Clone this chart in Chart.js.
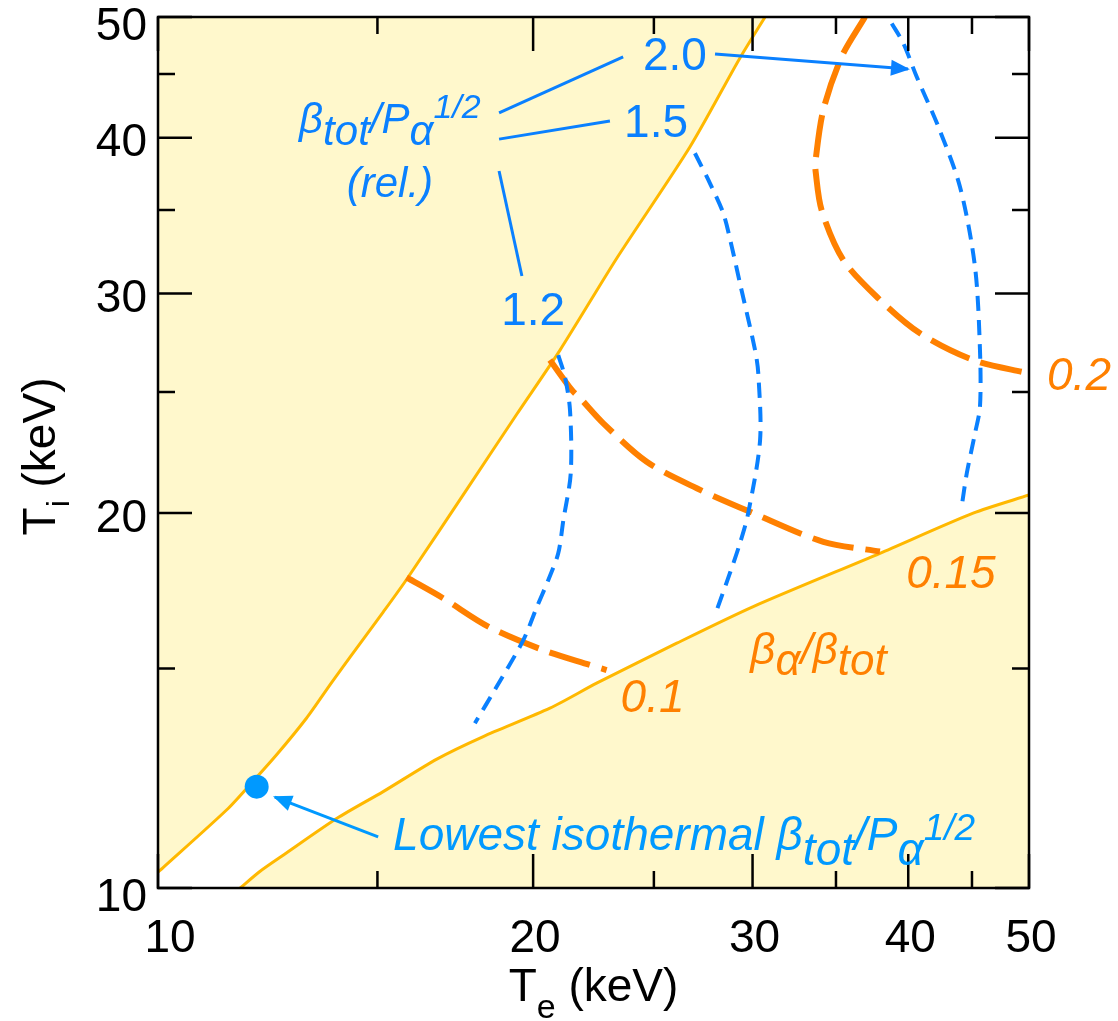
<!DOCTYPE html>
<html lang="en">
<head>
<meta charset="UTF-8">
<title>Beta contours in Te-Ti plane</title>
<script src="https://cdn.jsdelivr.net/npm/chart.js"></script>
<style>
  html, body { margin: 0; padding: 0; background: #fff; }
  #wrap { width: 1118px; height: 1021px; }
</style>
</head>
<body>
<div id="wrap"><canvas id="chart" width="1118" height="1021"></canvas></div>
<script>
// axis ticks, both axes in keV
const majorTicks = [10, 20, 30, 40, 50];
const minorTicks = [15, 25, 35, 45];
const tickLabels = ['10', '20', '30', '40', '50'];

// edges of the allowed (white) region, [Te, Ti]
const upperEdge = [[10.0, 10.3], [10.09, 10.38], [11.35, 11.55], [11.85, 12.1], [12.45, 12.79], [13.16, 13.69],
  [13.79, 14.63], [14.26, 15.32], [15.16, 16.65], [15.84, 17.7], [17.7, 20.9], [19.41, 24.01], [21.02, 27.02],
  [23.35, 32.03], [26.72, 39.32], [29.31, 46.35], [30.7, 50]];
const lowerEdge = [[11.64, 10.0], [12.07, 10.31], [12.61, 10.63], [13.91, 11.37], [15.16, 11.95], [16.74, 12.69],
  [18.24, 13.23], [20.63, 13.94], [22.49, 14.6], [26.08, 15.72], [30.04, 16.82], [37.96, 18.56], [45.1, 19.99],
  [50, 20.67]];

// beta_alpha / beta_tot contours
const betaA010 = [[15.83, 17.75], [16.94, 17.08], [18.41, 16.21], [20.38, 15.52], [22.22, 15.1], [22.91, 14.96]];
const betaA015 = [[20.63, 26.53], [21.48, 25.1], [21.81, 24.73], [22.77, 23.6], [24.67, 21.98], [27.06, 20.93],
  [30.04, 19.99], [34.19, 18.96], [37.96, 18.62]];
const betaA020 = [[36.93, 50], [35.37, 46.46], [34.19, 42.1], [33.71, 38.39], [33.71, 37.57], [34.09, 34.97],
  [35.48, 31.91], [37.85, 29.73], [40.88, 27.87], [45.1, 26.53], [50, 25.88]];

// beta_tot / P_alpha^1/2 (rel.) contours
const rel12 = [[20.95, 26.77], [21.21, 25.72], [21.41, 24.19], [21.44, 21.52], [21.15, 19.74], [20.95, 18.56],
  [20.57, 17.67], [20.14, 16.81], [19.64, 15.81], [18.7, 14.51], [17.96, 13.56]];
const rel15 = [[26.97, 38.87], [27.73, 36.77], [28.42, 34.79], [28.87, 32.71], [29.31, 30.57], [30.14, 27.02],
  [30.32, 25.88], [30.42, 22.88], [29.76, 19.99], [29.31, 18.91], [28.77, 17.89], [28.08, 16.71]];
const rel20 = [[38.8, 49.4], [39.64, 47.63], [40.63, 44.77], [42.29, 40.82], [44.01, 36.54], [45.25, 31.52],
  [45.67, 27.02], [45.67, 24.33], [45.25, 23.16], [44.57, 21.52], [44.15, 20.23]];

// lowest isothermal beta_tot / P_alpha^1/2
const lowestPoint = [[12.0, 12.06]];

// leader lines and arrows of the labels
const leader1 = [[18.78, 41.88], [23.62, 46.44]];
const leader2 = [[18.78, 39.9], [23.05, 41.26]];
const leader3 = [[18.78, 37.62], [19.59, 30.98]];
const arrow20 = [[27.99, 46.69], [39.98, 45.42]];
const arrowLow = [[15.02, 10.99], [12.41, 11.83]];

const BLUE = '#0a80ff';
const CYAN = '#0099ff';
const ORANGE = '#ff8000';
const GOLD = '#ffb800';
const PALE = '#fff8cc';
const FONT = "'Liberation Sans', Arial, Helvetica, sans-serif";

// text labels: anchor in data units, parts = [text, size, shift down]
const notes = [
  { at: [15.35, 40.35], align: 'center', color: BLUE, italic: true,
    parts: [['β', 42, 0], ['tot', 42, 12], ['/P', 42, 0], ['α', 42, 12], ['1/2', 34, -15]] },
  { at: [15.35, 35.86], align: 'center', color: BLUE, italic: true, parts: [['(rel.)', 42, 0]] },
  { at: [25.99, 45.33], align: 'center', color: BLUE, italic: false, parts: [['2.0', 46, 0]] },
  { at: [25.10, 40.06], align: 'center', color: BLUE, italic: false, parts: [['1.5', 46, 0]] },
  { at: [20.0, 28.30], align: 'center', color: BLUE, italic: false, parts: [['1.2', 46, 0]] },
  { at: [54.84, 25.10], align: 'center', color: ORANGE, italic: true, parts: [['0.2', 46, 0]] },
  { at: [43.28, 17.41], align: 'center', color: ORANGE, italic: true, parts: [['0.15', 46, 0]] },
  { at: [24.94, 13.84], align: 'center', color: ORANGE, italic: true, parts: [['0.1', 46, 0]] },
  { at: [33.89, 15.13], align: 'center', color: ORANGE, italic: true,
    parts: [['β', 44, 0], ['α', 44, 11], ['/β', 44, 0], ['tot', 44, 11]] },
  { at: [15.44, 10.73], align: 'left', color: CYAN, italic: true,
    parts: [['Lowest isothermal β', 46, 0], ['tot', 46, 15], ['/P', 46, 0], ['α', 46, 15], ['1/2', 37, -10]] }
];

function pts(a) { return a.map(p => ({ x: p[0], y: p[1] })); }

function drawRich(ctx, parts, x, y, align, color, italic) {
  const font = s => (italic ? 'italic ' : '') + s + 'px ' + FONT;
  let w = 0;
  parts.forEach(p => { ctx.font = font(p[1]); w += ctx.measureText(p[0]).width; });
  let cx = align === 'center' ? x - w / 2 : x;
  ctx.fillStyle = color;
  ctx.textAlign = 'left';
  ctx.textBaseline = 'alphabetic';
  parts.forEach(p => {
    ctx.font = font(p[1]);
    ctx.fillText(p[0], cx, y + p[2]);
    cx += ctx.measureText(p[0]).width;
  });
}

function contour(data, color, width, dash) {
  return { data: pts(data), borderColor: color, borderWidth: width, borderDash: dash, tension: 0.3, fill: false };
}

const datasets = [
  { data: pts(lowestPoint), showLine: false, pointRadius: 12, pointBackgroundColor: CYAN, pointBorderWidth: 0 },
  { data: pts(leader1), borderColor: BLUE, borderWidth: 3 },
  { data: pts(leader2), borderColor: BLUE, borderWidth: 3 },
  { data: pts(leader3), borderColor: BLUE, borderWidth: 3 },
  { data: pts(arrow20), borderColor: BLUE, borderWidth: 3, arrow: true },
  { data: pts(arrowLow), borderColor: CYAN, borderWidth: 3, arrow: true },
  contour(rel12, BLUE, 4, [15, 9]),
  contour(rel15, BLUE, 4, [15, 9]),
  contour(rel20, BLUE, 4, [15, 9]),
  contour(betaA010, ORANGE, 6, [42, 12]),
  contour(betaA015, ORANGE, 6, [42, 12]),
  contour(betaA020, ORANGE, 6, [42, 12]),
  { data: pts(upperEdge), borderColor: GOLD, borderWidth: 3, fill: 'end', backgroundColor: PALE, tension: 0.25 },
  { data: pts(lowerEdge), borderColor: GOLD, borderWidth: 3, fill: 'start', backgroundColor: PALE, tension: 0.25 }
];

const framePlugin = {
  id: 'frame',
  afterDatasetsDraw(chart) {
    const { ctx, chartArea: a, scales: { x, y } } = chart;
    ctx.save();
    // arrowheads
    chart.data.datasets.forEach((ds, i) => {
      if (!ds.arrow) return;
      const el = chart.getDatasetMeta(i).data;
      const p0 = el[el.length - 2], p1 = el[el.length - 1];
      const ang = Math.atan2(p1.y - p0.y, p1.x - p0.x);
      const tx = p1.x + 2 * Math.cos(ang), ty = p1.y + 2 * Math.sin(ang);
      ctx.fillStyle = ds.borderColor;
      ctx.beginPath();
      ctx.moveTo(tx, ty);
      ctx.lineTo(tx - 19 * Math.cos(ang) + 8 * Math.sin(ang), ty - 19 * Math.sin(ang) - 8 * Math.cos(ang));
      ctx.lineTo(tx - 19 * Math.cos(ang) - 8 * Math.sin(ang), ty - 19 * Math.sin(ang) + 8 * Math.cos(ang));
      ctx.closePath();
      ctx.fill();
    });
    // box and inward ticks on all four sides
    ctx.strokeStyle = '#000';
    ctx.lineWidth = 2.5;
    ctx.strokeRect(a.left, a.top, a.right - a.left, a.bottom - a.top);
    ctx.beginPath();
    const mark = (v, len) => {
      const px = x.getPixelForValue(v), py = y.getPixelForValue(v);
      ctx.moveTo(px, a.bottom); ctx.lineTo(px, a.bottom - len);
      ctx.moveTo(px, a.top); ctx.lineTo(px, a.top + len);
      ctx.moveTo(a.left, py); ctx.lineTo(a.left + len, py);
      ctx.moveTo(a.right, py); ctx.lineTo(a.right - len, py);
    };
    majorTicks.forEach(v => mark(v, 34));
    minorTicks.forEach(v => mark(v, 17));
    ctx.stroke();
    ctx.restore();
  },
  afterDraw(chart) {
    const { ctx, chartArea: a, scales: { x, y } } = chart;
    ctx.save();
    // tick labels; the first x label is nudged right, clear of the y one
    ctx.fillStyle = '#000';
    ctx.font = '46px ' + FONT;
    majorTicks.forEach((v, i) => {
      ctx.textAlign = 'center';
      ctx.textBaseline = 'alphabetic';
      ctx.fillText(tickLabels[i], x.getPixelForValue(v) + (i === 0 ? 12 : 2), a.bottom + 64);
      ctx.textAlign = 'right';
      ctx.textBaseline = 'middle';
      ctx.fillText(tickLabels[i], a.left - 11, y.getPixelForValue(v) + (i === 0 || i === 4 ? 10 : 6));
    });
    // axis titles
    const xt = [['T', 46, 0], ['e', 34, 17], [' (keV)', 46, 0]];
    const yt = [['T', 46, 0], ['i', 32, 14], [' (keV)', 46, 0]];
    drawRich(ctx, xt, (a.left + a.right) / 2, a.bottom + 113, 'center', '#000', false);
    ctx.save();
    ctx.translate(a.left - 103, (a.top + a.bottom) / 2 + 4);
    ctx.rotate(-Math.PI / 2);
    drawRich(ctx, yt, 0, 0, 'center', '#000', false);
    ctx.restore();
    // annotations
    notes.forEach(n => {
      drawRich(ctx, n.parts, x.getPixelForValue(n.at[0]), y.getPixelForValue(n.at[1]), n.align, n.color, n.italic);
    });
    ctx.restore();
  }
};

new Chart(document.getElementById('chart'), {
  type: 'line',
  data: { datasets: datasets },
  options: {
    responsive: false,
    animation: false,
    layout: { padding: { left: 158, top: 17, right: 89, bottom: 133 } },
    elements: { point: { radius: 0, hoverRadius: 0 } },
    scales: {
      x: { type: 'logarithmic', min: 10, max: 50, display: false },
      y: { type: 'logarithmic', min: 10, max: 50, display: false }
    },
    plugins: {
      legend: { display: false },
      tooltip: { enabled: false },
      filler: { drawTime: 'beforeDatasetsDraw' }
    }
  },
  plugins: [framePlugin]
});
</script>
</body>
</html>
